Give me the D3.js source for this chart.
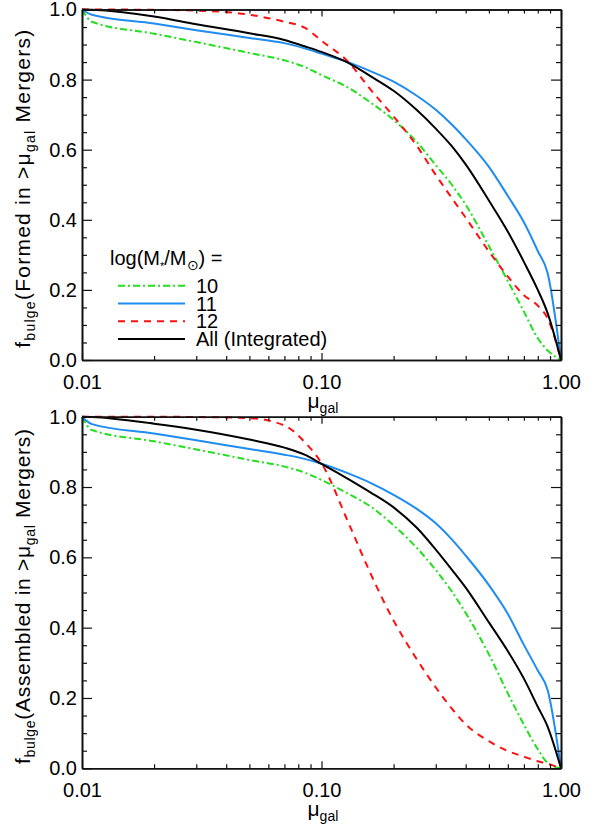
<!DOCTYPE html>
<html>
<head>
<meta charset="utf-8">
<script src="https://cdn.jsdelivr.net/npm/d3@7"></script>
<style>
  body { margin: 0; background: #fff; }
  svg { display: block; font-family: "Liberation Sans", Arial, sans-serif; }
</style>
</head>
<body>
<svg id="chart" width="597" height="825"></svg>
<script>
// mu_gal sample points (shared by all curves)
var mu = [0.01, 0.011, 0.02, 0.03, 0.05, 0.07, 0.085, 0.1, 0.13, 0.16, 0.2, 0.25, 0.3, 0.35, 0.4, 0.5, 0.6, 0.7, 0.8, 0.88, 1.0];

// top panel: bulge formed in > mu mergers
var formed10  = [1.0, 0.965, 0.931, 0.907, 0.876, 0.855, 0.836, 0.813, 0.776, 0.735, 0.685, 0.622, 0.556, 0.500, 0.443, 0.325, 0.225, 0.138, 0.062, 0.027, 0.0];
var formed11  = [1.0, 0.985, 0.960, 0.941, 0.919, 0.904, 0.889, 0.874, 0.849, 0.824, 0.794, 0.754, 0.714, 0.672, 0.630, 0.551, 0.468, 0.393, 0.311, 0.247, 0.0];
var formed12  = [1.0, 1.0, 0.999, 0.997, 0.985, 0.965, 0.948, 0.911, 0.849, 0.772, 0.695, 0.611, 0.528, 0.462, 0.406, 0.310, 0.238, 0.185, 0.155, 0.118, 0.0];
var formedAll = [1.0, 0.999, 0.980, 0.958, 0.932, 0.913, 0.895, 0.879, 0.847, 0.810, 0.768, 0.713, 0.660, 0.610, 0.558, 0.455, 0.366, 0.280, 0.200, 0.133, 0.0];

// bottom panel: bulge assembled in > mu mergers
var assembled10  = [1.0, 0.962, 0.930, 0.907, 0.877, 0.858, 0.841, 0.820, 0.780, 0.745, 0.691, 0.627, 0.564, 0.503, 0.442, 0.324, 0.213, 0.124, 0.054, 0.015, 0.0];
var assembled11  = [1.0, 0.979, 0.952, 0.933, 0.908, 0.892, 0.880, 0.866, 0.838, 0.812, 0.778, 0.738, 0.697, 0.651, 0.605, 0.521, 0.439, 0.351, 0.278, 0.222, 0.0];
var assembled12  = [1.0, 1.0, 1.0, 0.999, 0.996, 0.975, 0.928, 0.868, 0.696, 0.555, 0.420, 0.310, 0.230, 0.170, 0.125, 0.077, 0.049, 0.033, 0.020, 0.013, 0.0];
var assembledAll = [1.0, 0.999, 0.980, 0.963, 0.935, 0.912, 0.892, 0.866, 0.822, 0.785, 0.742, 0.684, 0.622, 0.565, 0.514, 0.415, 0.333, 0.255, 0.175, 0.118, 0.0];

var xTicks = [0.01, 0.1, 1.0];
var xMinor = [0.02, 0.03, 0.04, 0.05, 0.06, 0.07, 0.08, 0.09, 0.2, 0.3, 0.4, 0.5, 0.6, 0.7, 0.8, 0.9];
var yTicks = [0.0, 0.2, 0.4, 0.6, 0.8, 1.0];
var yMinor = [0.05, 0.1, 0.15, 0.25, 0.3, 0.35, 0.45, 0.5, 0.55, 0.65, 0.7, 0.75, 0.85, 0.9, 0.95];

var legendNames = ['10', '11', '12', 'All (Integrated)'];
var colors = ['#22e01e', '#1e8cf0', '#ff1010', '#000000'];
var dashes = ['7,3,2,3', null, '7,6', null];

var svg = d3.select('#chart');
var left = 82, right = 561;

var x = d3.scaleLog().domain([0.01, 1]).range([left, right]);

function drawPanel(top, bottom, series, what, labelLen) {
  var y = d3.scaleLinear().domain([0, 1]).range([bottom, top]);
  var g = svg.append('g');

  var line = d3.line()
    .x(function(d, i){ return x(mu[i]) })
    .y(function(d){ return y(d) })
    .curve(d3.curveMonotoneX);

  series.forEach(function(s, i){
    g.append('path')
      .attr('d', line(s))
      .attr('fill', 'none')
      .attr('stroke', colors[i])
      .attr('stroke-width', 2)
      .attr('stroke-dasharray', dashes[i]);
  });

  // axes, ticks pointing inward
  var fmt = d3.format('.2f');
  g.append('g').attr('transform', 'translate(0,' + bottom + ')')
    .call(d3.axisBottom(x).tickValues(xTicks).tickFormat(fmt).tickSizeInner(-7).tickSizeOuter(0).tickPadding(15));
  g.append('g').attr('transform', 'translate(0,' + bottom + ')')
    .call(d3.axisBottom(x).tickValues(xMinor).tickFormat('').tickSizeInner(-4).tickSizeOuter(0));
  g.append('g').attr('transform', 'translate(0,' + top + ')')
    .call(d3.axisTop(x).tickValues(xTicks).tickFormat('').tickSizeInner(-7).tickSizeOuter(0));
  g.append('g').attr('transform', 'translate(0,' + top + ')')
    .call(d3.axisTop(x).tickValues(xMinor).tickFormat('').tickSizeInner(-4).tickSizeOuter(0));

  g.append('g').attr('transform', 'translate(' + left + ',0)')
    .call(d3.axisLeft(y).tickValues(yTicks).tickFormat(d3.format('.1f')).tickSizeInner(-10).tickSizeOuter(0).tickPadding(5));
  g.append('g').attr('transform', 'translate(' + left + ',0)')
    .call(d3.axisLeft(y).tickValues(yMinor).tickFormat('').tickSizeInner(-5).tickSizeOuter(0));
  g.append('g').attr('transform', 'translate(' + right + ',0)')
    .call(d3.axisRight(y).tickValues(yTicks).tickFormat('').tickSizeInner(-10).tickSizeOuter(0));
  g.append('g').attr('transform', 'translate(' + right + ',0)')
    .call(d3.axisRight(y).tickValues(yMinor).tickFormat('').tickSizeInner(-5).tickSizeOuter(0));

  g.selectAll('.domain').attr('stroke', '#111').attr('stroke-width', 1.6);
  g.selectAll('.tick line').attr('stroke', '#111').attr('stroke-width', 1.2);
  g.selectAll('.tick text').attr('font-size', 20).attr('fill', '#000')
    .attr('font-family', '"Liberation Sans", Arial, sans-serif');

  // x label: mu_gal
  var xl = g.append('text')
    .attr('x', (left + right) / 2 - 14)
    .attr('y', bottom + 48)
    .attr('font-size', 21);
  xl.append('tspan').text('μ');
  xl.append('tspan').attr('dy', 5).attr('font-size', 14).text('gal');

  // y label
  var yl = g.append('text')
    .attr('transform', 'translate(30,' + ((top + bottom) / 2 + 4) + ') rotate(-90)')
    .attr('text-anchor', 'middle')
    .attr('textLength', labelLen)
    .attr('lengthAdjust', 'spacing')
    .attr('font-size', 21);
  yl.append('tspan').text('f');
  yl.append('tspan').attr('dy', 5).attr('font-size', 14).text('bulge');
  yl.append('tspan').attr('dy', -5).text('(' + what + ' in >μ');
  yl.append('tspan').attr('dy', 5).attr('font-size', 14).text('gal');
  yl.append('tspan').attr('dy', -5).text(' Mergers)');

  return y;
}

drawPanel(9.5, 360, [formed10, formed11, formed12, formedAll], 'Formed', 318);
drawPanel(416.7, 768.3, [assembled10, assembled11, assembled12, assembledAll], 'Assembled', 335);

// legend in top panel
var lg = svg.append('g');
var title = lg.append('text').attr('x', 110).attr('y', 265).attr('font-size', 20);
title.append('tspan').text('log(M');
title.append('tspan').attr('dy', 5).attr('font-size', 11).text('*');
title.append('tspan').attr('dy', -5).text('/M');
title.append('tspan').attr('dy', 5).attr('font-size', 14).text('⊙');
title.append('tspan').attr('dy', -5).text(') =');

legendNames.forEach(function(name, i){
  var ly = 285.7 + i * 17.8;
  lg.append('line')
    .attr('x1', 118).attr('x2', 185)
    .attr('y1', ly).attr('y2', ly)
    .attr('stroke', colors[i])
    .attr('stroke-width', 2)
    .attr('stroke-dasharray', dashes[i]);
  lg.append('text')
    .attr('x', 196).attr('y', ly + 7)
    .attr('font-size', 20)
    .text(name);
});
</script>
</body>
</html>
